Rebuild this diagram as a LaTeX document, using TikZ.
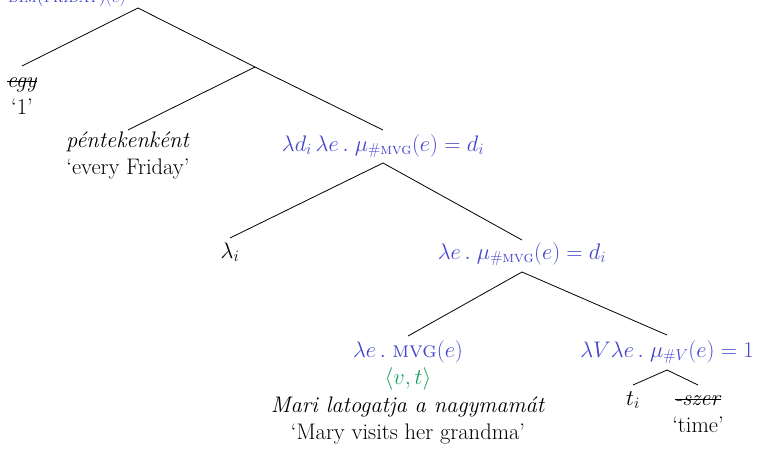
\RequirePackage{fix-cm}
\documentclass[tikz,border=0pt]{standalone}
\usepackage{amsmath}
\usepackage{fontspec}
\definecolor{semblue}{RGB}{68,68,204}
\definecolor{semgreen}{RGB}{24,160,100}
\newcommand\hs[1]{\rule{0pt}{#1pt}}
\newcommand\sct[1]{\text{\textsc{#1}}}
\newsavebox\strkbox
\newcommand\strk[1]{\sbox\strkbox{#1}\rlap{\rule[0.23em]{\wd\strkbox}{0.055em}}\usebox\strkbox}
\begin{document}
\begin{tikzpicture}[x=1pt,y=-1pt,
  every node/.style={inner sep=0pt, outer sep=0pt, font=\fontsize{22.5}{27.5}\selectfont},
  lf/.style={anchor=north, align=center},
  sem/.style={text=semblue},
  br/.style={line width=0.8pt}]
\useasboundingbox (0,0) rectangle (758,448);
\clip (0,0) rectangle (758,448);
\node[sem, anchor=base, font=\fontsize{17}{20}\selectfont] (top) at (67,2.5) {$\sct{dim(friday)}(e)$};
\coordinate (r) at (138,8);
\coordinate (j) at (255,67);
\node[lf] (egy) at (22,66) {\hs{21}\strk{\textit{egy}}\\‘\oldstylenums{1}’};
\node[lf] (pen) at (128,130) {\hs{17}\textit{péntekenként}\\‘every Friday’};
\node[lf, sem] (ld) at (383,130) {\rule[-12pt]{0pt}{33pt}$\lambda d_i\,\lambda e\,.\;\mu_{\#\sct{mvg}}(e)=d_i$};
\node[lf] (li) at (230,238) {\hs{20}$\lambda_i$};
\node[lf, sem] (le) at (522,240) {\rule[-13pt]{0pt}{32pt}$\lambda e\,.\;\mu_{\#\sct{mvg}}(e)=d_i$};
\node[lf] (mvg) at (408,336) {\hs{21}\textcolor{semblue}{$\lambda e\,.\;\sct{mvg}(e)$}\\\textcolor{semgreen}{$\langle v,t\rangle$}\\\textit{Mari latogatja a nagymamát}\\‘Mary visits her grandma’};
\node[lf, sem] (lv) at (667,335) {\rule[-13pt]{0pt}{35pt}$\lambda V\lambda e\,.\;\mu_{\#V}(e)=1$};
\node[lf] (ti) at (633,385) {\hs{20}$t_i$};
\node[lf] (sz) at (698,385) {\hs{20}\strk{\textit{-szer}}\\‘time’};
\draw[br] (r) -- (egy.north);
\draw[br] (r) -- (j);
\draw[br] (j) -- (pen.north);
\draw[br] (j) -- (ld.north);
\draw[br] (ld.south) -- (li.north);
\draw[br] (ld.south) -- (le.north);
\draw[br] (le.south) -- (mvg.north);
\draw[br] (le.south) -- (lv.north);
\draw[br] (lv.south) -- (ti.north);
\draw[br] (lv.south) -- (sz.north);
\end{tikzpicture}
\end{document}
